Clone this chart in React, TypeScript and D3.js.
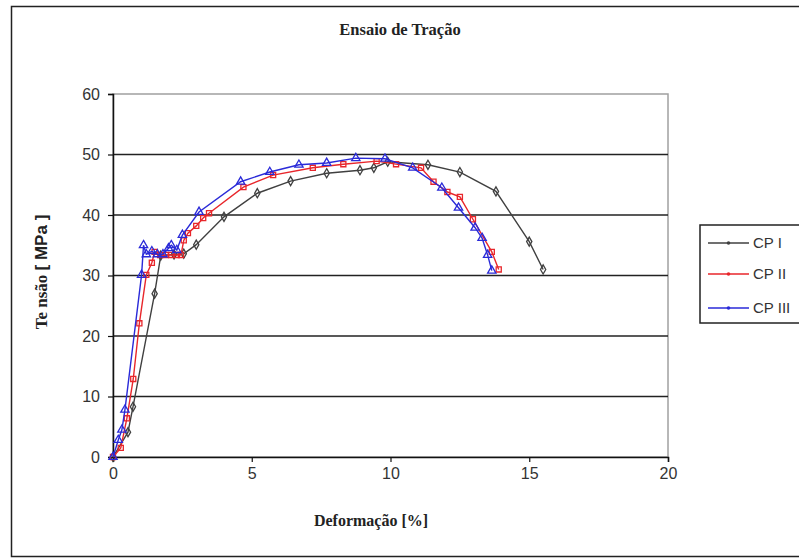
import React, { useEffect, useRef } from "react";
import * as d3 from "d3";

// tick labels
const xTicks = [0, 5, 10, 15, 20];
const yTicks = [0, 10, 20, 30, 40, 50, 60];

// CP I (deformação %, tensão MPa)
const cp1X = [0, 0.54, 0.72, 1.5, 1.72, 2.2, 2.55, 3.0, 4.0, 5.2, 6.4, 7.7, 8.9, 9.4, 9.9, 11.35, 12.5, 13.8, 15.0, 15.5];
const cp1Y = [0, 4.1, 8.3, 27, 33.3, 33.5, 33.6, 35.1, 39.7, 43.6, 45.6, 46.9, 47.4, 47.8, 48.8, 48.3, 47.1, 43.9, 35.6, 31];

// CP II
const cp2X = [0, 0.28, 0.5, 0.73, 0.95, 1.2, 1.4, 1.5, 1.7, 1.9, 2.1, 2.3, 2.45, 2.55, 2.7, 3.0, 3.25, 3.46, 4.7, 5.77, 7.2, 8.3, 9.5, 10.2, 11.1, 11.55, 12.05, 12.5, 12.97, 13.65, 13.9];
const cp2Y = [0, 1.5, 6.4, 12.9, 22.1, 30.1, 32.1, 33.9, 33.4, 33.4, 33.4, 33.4, 33.4, 35.8, 37.0, 38.2, 39.5, 40.3, 44.6, 46.6, 47.8, 48.4, 48.9, 48.4, 47.8, 45.5, 43.8, 43.0, 39.3, 33.9, 31];

// CP III
const cp3X = [0, 0.19, 0.32, 0.43, 1.03, 1.1, 1.2, 1.4, 1.6, 1.8, 2.0, 2.1, 2.3, 2.5, 3.1, 4.6, 5.65, 6.7, 7.7, 8.75, 9.8, 10.8, 11.85, 12.45, 13.05, 13.3, 13.5, 13.65];
const cp3Y = [0, 2.8, 4.5, 7.8, 30.1, 35, 33.5, 34, 33.5, 33.5, 34.5, 35, 34.2, 36.7, 40.5, 45.5, 47.1, 48.3, 48.6, 49.4, 49.3, 47.8, 44.5, 41.2, 37.9, 36.2, 33.4, 30.8];

const seriesNames = ["CP I", "CP II", "CP III"];
const seriesColors = ["#404040", "#e8262b", "#2a2ad8"];

const W = 799;
const H = 559;
const plot = { left: 113, right: 668, top: 94, bottom: 457 };
const sans = "Liberation Sans, Arial, sans-serif";
const serif = "Liberation Serif, Times New Roman, serif";

function App() {
  const ref = useRef<SVGSVGElement>(null);

  useEffect(() => {
    const svg = d3.select(ref.current);
    svg.selectAll("*").remove();

    const x = d3.scaleLinear().domain([0, 20]).range([plot.left, plot.right]);
    const y = d3.scaleLinear().domain([0, 60]).range([plot.bottom, plot.top]);

    // outer frame
    svg.append("rect")
      .attr("x", 11.5).attr("y", 6.5)
      .attr("width", W + 20).attr("height", 550)
      .attr("fill", "#fff").attr("stroke", "#222").attr("stroke-width", 1.5);

    // plot frame
    svg.append("rect")
      .attr("x", plot.left).attr("y", plot.top)
      .attr("width", plot.right - plot.left).attr("height", plot.bottom - plot.top)
      .attr("fill", "none").attr("stroke", "#a0a0a0").attr("stroke-width", 1.5);

    // grid
    svg.append("g")
      .selectAll("line")
      .data(yTicks.filter((t) => t > 0 && t < 60))
      .join("line")
      .attr("x1", plot.left).attr("x2", plot.right)
      .attr("y1", (d) => y(d)).attr("y2", (d) => y(d))
      .attr("stroke", "#222").attr("stroke-width", 1.5);

    // axes
    const yAxis = d3.axisLeft(y).tickValues(yTicks).tickSize(5).tickPadding(8);
    const gy = svg.append("g").attr("transform", `translate(${plot.left},0)`).call(yAxis);
    const xAxis = d3.axisBottom(x).tickValues(xTicks).tickSize(5).tickPadding(6);
    const gx = svg.append("g").attr("transform", `translate(0,${plot.bottom})`).call(xAxis);
    [gx, gy].forEach((g) => {
      g.selectAll("path").attr("stroke", "#111").attr("stroke-width", 1.5);
      g.selectAll("line").attr("stroke", "#111").attr("stroke-width", 1.2);
      g.selectAll("text")
        .attr("font-family", sans)
        .attr("font-size", 16)
        .attr("fill", "#333");
    });

    const allX = [cp1X, cp2X, cp3X];
    const allY = [cp1Y, cp2Y, cp3Y];
    const line = d3.line<[number, number]>().x((d) => x(d[0])).y((d) => y(d[1]));

    allX.forEach((xs, i) => {
      const pts: [number, number][] = xs.map((v, j) => [v, allY[i][j]]);
      const col = seriesColors[i];
      svg.append("path")
        .datum(pts)
        .attr("d", line)
        .attr("fill", "none")
        .attr("stroke", col)
        .attr("stroke-width", 1.4);

      const sym = i === 0 ? d3.symbolDiamond : i === 1 ? d3.symbolSquare : d3.symbolTriangle;
      const size = i === 0 ? 24 : i === 1 ? 26 : 30;
      svg.append("g")
        .selectAll("path")
        .data(pts)
        .join("path")
        .attr("transform", (d) => `translate(${x(d[0])},${y(d[1])})`)
        .attr("d", d3.symbol().type(sym).size(size)())
        .attr("fill", "none")
        .attr("stroke", col)
        .attr("stroke-width", 1.3);
    });

    // legend
    const lg = svg.append("g");
    lg.append("rect")
      .attr("x", 700).attr("y", 225)
      .attr("width", 120).attr("height", 98)
      .attr("fill", "#fff").attr("stroke", "#222").attr("stroke-width", 1.5);
    seriesNames.forEach((name, i) => {
      const ly = [243, 274, 308][i];
      lg.append("line")
        .attr("x1", 708).attr("x2", 749)
        .attr("y1", ly).attr("y2", ly)
        .attr("stroke", seriesColors[i]).attr("stroke-width", 1.4);
      lg.append("circle")
        .attr("cx", 728.5).attr("cy", ly).attr("r", 1.8)
        .attr("fill", seriesColors[i]);
      lg.append("text")
        .attr("x", 753).attr("y", ly + 5)
        .attr("font-family", sans)
        .attr("font-size", 15)
        .attr("fill", "#333")
        .text(name);
    });

    // title
    svg.append("text")
      .attr("x", 400).attr("y", 35)
      .attr("text-anchor", "middle")
      .attr("font-family", serif)
      .attr("font-weight", "bold")
      .attr("font-size", 16.5)
      .attr("fill", "#222")
      .text("Ensaio de Tração");

    // x label
    svg.append("text")
      .attr("x", 371).attr("y", 526)
      .attr("text-anchor", "middle")
      .attr("font-family", serif)
      .attr("font-weight", "bold")
      .attr("font-size", 16)
      .attr("fill", "#222")
      .text("Deformação [%]");

    // y label
    const yl = svg.append("text")
      .attr("transform", "translate(47,272) rotate(-90)")
      .attr("text-anchor", "middle")
      .attr("font-weight", "bold")
      .attr("fill", "#222");
    yl.append("tspan")
      .attr("font-family", serif)
      .attr("font-size", 17)
      .text("Te nsão ");
    yl.append("tspan")
      .attr("font-family", sans)
      .attr("font-size", 17)
      .text("[ MPa ]");
  }, []);

  return (
    <svg
      ref={ref}
      width={W}
      height={H}
      style={{ position: "absolute", left: 0, top: 0, background: "#fff" }}
    />
  );
}

export default App;
